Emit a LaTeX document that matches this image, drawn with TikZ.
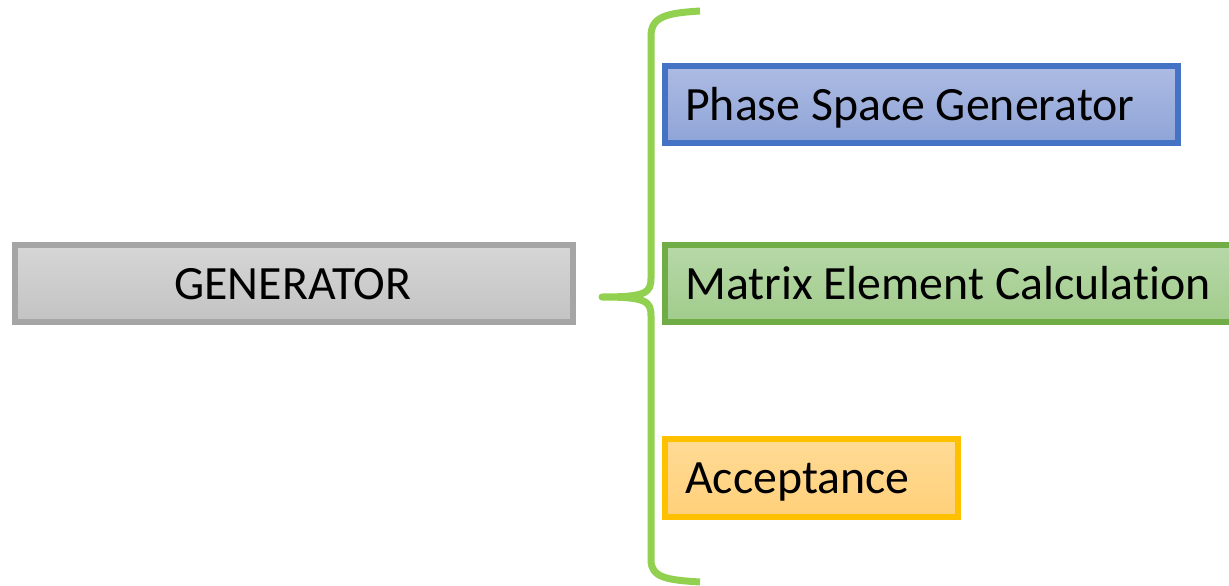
\documentclass[tikz,border=0pt]{standalone}
\usepackage{fontspec}
\setmainfont[Ligatures={NoCommon,NoRequired,NoContextual,NoDiscretionary}]{Carlito}
\definecolor{grayfillA}{HTML}{D6D6D6}
\definecolor{grayfillB}{HTML}{C3C3C3}
\definecolor{grayline}{HTML}{A5A5A5}
\definecolor{bluefillA}{HTML}{ADBBE3}
\definecolor{bluefillB}{HTML}{8FA4D7}
\definecolor{blueline}{HTML}{4472C4}
\definecolor{greenfillA}{HTML}{B7D8A8}
\definecolor{greenfillB}{HTML}{A1CC8C}
\definecolor{greenline}{HTML}{70AD47}
\definecolor{orangefillA}{HTML}{FFDB95}
\definecolor{orangefillB}{HTML}{FFD07A}
\definecolor{orangeline}{HTML}{FFC000}
\definecolor{bracegreen}{HTML}{92D050}
\tikzset{
  boxbase/.style={line width=6pt},
  graybox/.style={boxbase, draw=grayline, top color=grayfillA, bottom color=grayfillB},
  bluebox/.style={boxbase, draw=blueline, top color=bluefillA, bottom color=bluefillB},
  greenbox/.style={boxbase, draw=greenline, top color=greenfillA, bottom color=greenfillB},
  orangebox/.style={boxbase, draw=orangeline, top color=orangefillA, bottom color=orangefillB},
  label/.style={inner sep=0pt, font=\fontsize{47.8}{57}\selectfont},
  bracestyle/.style={draw=bracegreen, line width=7pt, line join=round}
}
\begin{document}
\begin{tikzpicture}[x=1pt, y=-1pt]
  \clip (0,0) rectangle (1229,586);
  \fill[white] (0,0) rectangle (1229,586);

  % boxes
  \path[graybox]   (15,245) rectangle (573,322);
  \path[bluebox]   (665,66) rectangle (1178,143);
  \path[greenbox]  (665,245) rectangle (1235,322);
  \path[orangebox] (665,439) rectangle (958,517);

  % labels
  \node[label, anchor=base] (gen) at (293,299.5) {GENERATOR};
  \node[label, anchor=base west] (psg) at (685,120.5) {Phase Space Generator};
  \node[label, anchor=base west] (mec) at (685,299.5) {Matrix Element Calculation};
  \node[label, anchor=base west] (acc) at (685,493.5) {Acceptance};

  % curly brace
  \coordinate (btop) at (700,11);
  \coordinate (btip) at (602,297);
  \coordinate (bbot) at (700,582);
  \draw[bracestyle] (btop) .. controls (668,13) and (651,16) .. (651,36)
    -- (651,278) .. controls (651,293) and (646,297) .. (btip)
    .. controls (646,297) and (651,301) .. (651,316)
    -- (651,560) .. controls (651,578) and (668,580) .. (bbot);
\end{tikzpicture}
\end{document}
